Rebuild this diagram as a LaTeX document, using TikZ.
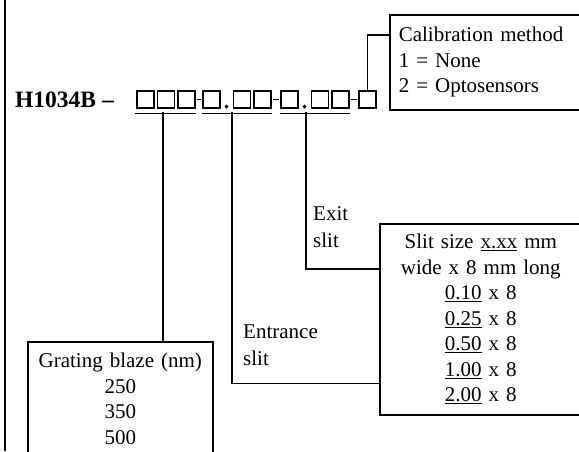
\documentclass[tikz,border=0pt]{standalone}
\usepackage{fontspec}
\setmainfont{Liberation Serif}
\usetikzlibrary{positioning,calc}
\tikzset{
  txt/.style={font=\fontsize{21}{27}\selectfont, inner sep=0pt},
  infobox/.style={draw, line width=1.6pt, inner ysep=0pt, font=\fontsize{21}{25.5}\selectfont},
  digit/.style={draw, line width=1.6pt, minimum width=17pt, minimum height=17pt, inner sep=0pt, anchor=north west},
  pdot/.style={circle, fill=black, inner sep=1.4pt},
  link/.style={line width=1.5pt}
}

\begin{document}
\begin{tikzpicture}[x=1pt,y=-1pt]
  \useasboundingbox (0,0) rectangle (579,451);
  \clip (0,0) rectangle (579,451);

  % frame line
  \draw[link] (5,0) -- (5,451);

  % part number
  \node[txt, font=\fontsize{23.5}{27}\selectfont, anchor=base west] (pn) at (15,107) {\textbf{H1034B –}};

  % digit boxes
  \foreach \i/\x in {1/136,2/156.5,3/177,4/202,5/232.5,6/253,7/280,8/310.5,9/331,10/358}
    \node[digit] (d\i) at (\x,90) {};

  % dashes and decimal points
  \draw[link] ($(d3.east)+(1,0)$) -- ($(d4.west)+(-1,0)$);
  \draw[link] ($(d6.east)+(1,0)$) -- ($(d7.west)+(-1,0)$);
  \draw[link] ($(d9.east)+(1,0)$) -- ($(d10.west)+(-1,0)$);
  \node[pdot] (p1) at ($(d4.south east)!0.5!(d5.south west)+(0,-2)$) {};
  \node[pdot] (p2) at ($(d7.south east)!0.5!(d8.south west)+(0,-2)$) {};

  % underlines
  \draw[link] ($(d1.south west)+(-1,5)$) -- ($(d3.south east)+(0,5)$) coordinate (u1e);
  \draw[link] ($(d4.south west)+(0,5)$) -- ($(d6.south east)+(0,5)$) coordinate (u2e);
  \draw[link] ($(d7.south west)+(0,5)$) -- ($(d9.south east)+(0,5)$) coordinate (u3e);
  \coordinate (u1) at (163,112);
  \coordinate (u2) at (232,112);
  \coordinate (u3) at (306,112);

  % boxes
  \node[infobox, anchor=north west, text width=200pt, inner xsep=9pt,
        minimum height=95pt, align=left] (cal) at (389,14)
        {Calibration method\\1 = None\\2 = Optosensors};
  \node[infobox, anchor=north west, text width=202pt, inner xsep=0pt,
        minimum height=191pt, align=center] (slit) at (379,223)
        {Slit size \underline{x.xx} mm\\wide x 8 mm long\\\underline{0.10} x 8\\
         \underline{0.25} x 8\\\underline{0.50} x 8\\\underline{1.00} x 8\\\underline{2.00} x 8};
  \node[infobox, anchor=north west, text width=185pt, inner xsep=0pt,
        minimum height=114pt, align=center] (grate) at (27,341)
        {Grating blaze (nm)\\250\\350\\500};

  % slit labels
  \node[txt, anchor=north west, align=left] (exitlbl) at (313,206) {Exit\\slit};
  \node[txt, anchor=north west, align=left] (entrlbl) at (243,325) {Entrance\\slit};

  % connectors
  \draw[link] (d10.north) |- ($(cal.north west)+(0,21)$);
  \draw[link] (u1) -- (u1 |- grate.north);
  \draw[link] (u2) |- ($(slit.south west)+(0,-32)$);
  \draw[link] (u3) |- ($(slit.north west)+(0,46)$);
\end{tikzpicture}
\end{document}
